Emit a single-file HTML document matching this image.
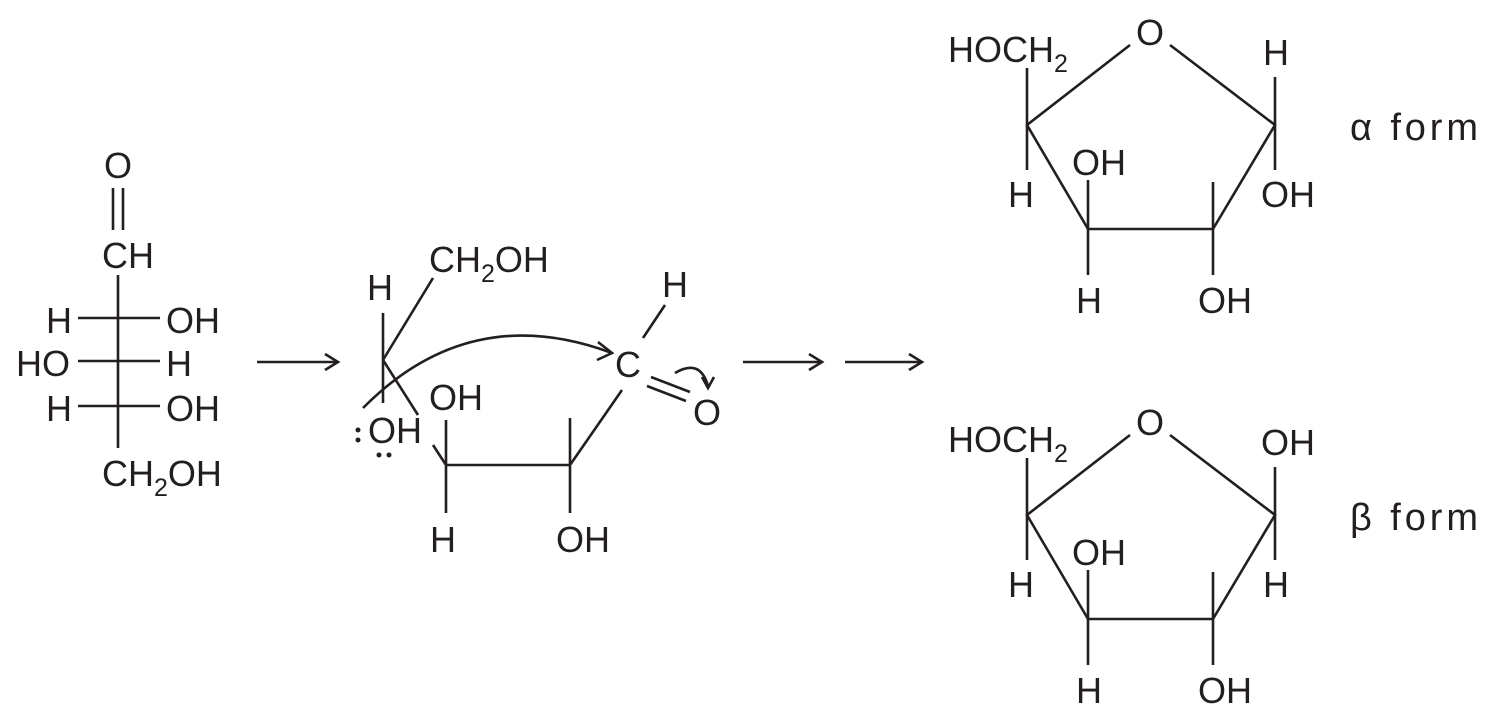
<!DOCTYPE html>
<html><head><style>
html,body{margin:0;padding:0;background:#fff;}
svg{display:block;}
text{font-family:"Liberation Sans",sans-serif;font-size:36px;fill:#231f20;}
.s{font-size:25px;}
line,path,polyline{stroke:#231f20;stroke-width:2.6;fill:none;}
</style></head><body>
<svg width="1500" height="722" viewBox="0 0 1500 722" xmlns="http://www.w3.org/2000/svg">
<!-- Fischer -->
<text x="104" y="178">O</text>
<line x1="113" y1="188" x2="113" y2="230"/><line x1="123" y1="188" x2="123" y2="230"/>
<text x="102" y="268">CH</text>
<line x1="118" y1="275" x2="118" y2="448"/>
<line x1="78" y1="318" x2="160" y2="318"/>
<line x1="78" y1="361" x2="160" y2="361"/>
<line x1="78" y1="406" x2="160" y2="406"/>
<text x="46" y="333">H</text><text x="166" y="333">OH</text>
<text x="16" y="376">HO</text><text x="166" y="376">H</text>
<text x="46" y="421">H</text><text x="166" y="421">OH</text>
<text x="102" y="486">CH<tspan class="s" dy="10">2</tspan><tspan dy="-10">OH</tspan></text>
<!-- arrows -->
<g>
<line x1="257" y1="362" x2="337" y2="362"/><polyline points="325,354 338,362 325,370"/>
<line x1="743" y1="362" x2="821" y2="362"/><polyline points="809,354 822,362 809,370"/>
<line x1="845" y1="362" x2="921" y2="362"/><polyline points="909,354 922,362 909,370"/>
</g>
<!-- middle open chain -->
<text x="367" y="300">H</text>
<text x="429" y="272">CH<tspan class="s" dy="10">2</tspan><tspan dy="-10">OH</tspan></text>
<line x1="383" y1="313" x2="383" y2="403"/>
<line x1="433" y1="278" x2="383" y2="360"/>
<line x1="383" y1="360" x2="418" y2="415"/>
<path d="M363,408 Q470,300 612,353"/>
<polyline points="598,342 612,353 597,360"/>
<text x="368" y="443">OH</text>
<circle cx="358" cy="430" r="2.5" fill="#231f20"/><circle cx="358" cy="440" r="2.5" fill="#231f20"/>
<circle cx="379" cy="455" r="2.5" fill="#231f20"/><circle cx="389" cy="455" r="2.5" fill="#231f20"/>
<text x="429" y="410">OH</text>
<line x1="433" y1="445" x2="446" y2="465"/>
<line x1="446" y1="420" x2="446" y2="513"/>
<line x1="446" y1="465" x2="570" y2="465"/>
<line x1="570" y1="418" x2="570" y2="513"/>
<line x1="570" y1="465" x2="622" y2="390"/>
<text x="615" y="377">C</text>
<text x="662" y="297">H</text>
<line x1="665" y1="305" x2="643" y2="338"/>
<line x1="651" y1="377" x2="690" y2="392"/>
<line x1="647" y1="386" x2="686" y2="401"/>
<text x="693" y="425">O</text>
<path d="M675,373 Q700,358 708,386"/>
<polyline points="702,377 708,388 714,377"/>
<text x="430" y="552">H</text><text x="556" y="552">OH</text>
<!-- alpha -->
<g>
<text x="948" y="62">HOCH<tspan class="s" dy="10">2</tspan></text>
<text x="1136" y="45">O</text>
<text x="1263" y="65">H</text>
<polyline points="1130,45 1027,125 1088,229 1213,229 1275,125 1170,45"/>
<line x1="1027" y1="68" x2="1027" y2="170"/>
<line x1="1275" y1="77" x2="1275" y2="170"/>
<text x="1008" y="207">H</text><text x="1261" y="207">OH</text>
<text x="1072" y="175">OH</text>
<line x1="1088" y1="180" x2="1088" y2="275"/>
<line x1="1213" y1="182" x2="1213" y2="275"/>
<text x="1076" y="313">H</text><text x="1198" y="313">OH</text>
<text x="1350" y="140" style="font-size:38px" textLength="128" lengthAdjust="spacing">α form</text>
</g>
<!-- beta -->
<g transform="translate(0,390)">
<text x="948" y="62">HOCH<tspan class="s" dy="10">2</tspan></text>
<text x="1136" y="45">O</text>
<text x="1261" y="65">OH</text>
<polyline points="1130,45 1027,125 1088,229 1213,229 1275,125 1170,45"/>
<line x1="1027" y1="68" x2="1027" y2="170"/>
<line x1="1275" y1="77" x2="1275" y2="170"/>
<text x="1008" y="207">H</text><text x="1263" y="207">H</text>
<text x="1072" y="175">OH</text>
<line x1="1088" y1="180" x2="1088" y2="275"/>
<line x1="1213" y1="182" x2="1213" y2="275"/>
<text x="1076" y="313">H</text><text x="1198" y="313">OH</text>
<text x="1350" y="140" style="font-size:38px" textLength="128" lengthAdjust="spacing">β form</text>
</g>
</svg>
</body></html>
